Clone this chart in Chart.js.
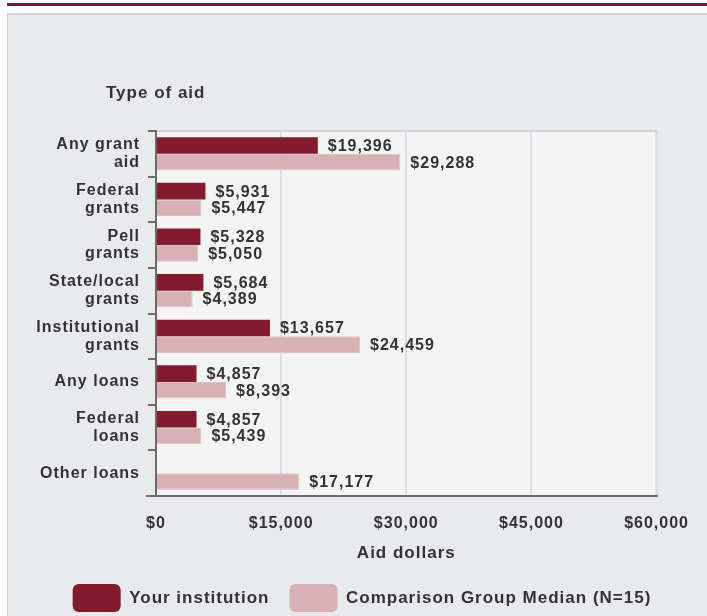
<!DOCTYPE html>
<html>
<head>
<meta charset="utf-8">
<script src="https://cdn.jsdelivr.net/npm/chart.js@4"></script>
<style>
  html, body { margin: 0; padding: 0; background: #fff; }
  body { width: 707px; height: 616px; position: relative; overflow: hidden; font-family: "Liberation Sans", Arial, sans-serif; }
  .stripe { position: absolute; left: 7px; top: 3px; width: 700px; height: 3px; background: #7d1a2c; }
  .panel { position: absolute; left: 7px; top: 13px; width: 699px; height: 603px; background: #e9eaee; border-top: 2px solid #d3d3d5; border-left: 1px solid #cfcfd2; }
  .wrap { position: absolute; left: 0; top: 0; width: 707px; height: 616px; }
</style>
</head>
<body>
<div class="stripe"></div>
<div class="panel"></div>
<div class="wrap"><canvas id="aidChart" width="707" height="616"></canvas></div>
<script>
var categories = [
    ['Any grant', 'aid'],
    ['Federal', 'grants'],
    ['Pell', 'grants'],
    ['State/local', 'grants'],
    ['Institutional', 'grants'],
    'Any loans',
    ['Federal', 'loans'],
    'Other loans'
];
var yourInstitution = [19396, 5931, 5328, 5684, 13657, 4857, 4857, null];
var comparisonMedian = [29288, 5447, 5050, 4389, 24459, 8393, 5439, 17177];
var xTicks = [0, 15000, 30000, 45000, 60000];

var textColor = '#333333';
var fontFamily = '"Liberation Sans", Arial, sans-serif';

function money(v) {
    return '$' + Math.round(v).toLocaleString('en-US');
}

// the source chart uses slightly spaced lettering
var spacing = {
    id: 'spacing',
    beforeUpdate: function (chart) { chart.ctx.letterSpacing = '1px'; },
    beforeDraw: function (chart) { chart.ctx.letterSpacing = '1px'; },
    afterLayout: function (chart) {
        // legend sits a little right of centre in the original
        if (chart.legend) {
            chart.legend.left += 22;
            chart.legend.right += 22;
        }
    }
};

// plot background + "Type of aid" heading + value labels
var backdrop = {
    id: 'backdrop',
    beforeDraw: function (chart) {
        var a = chart.chartArea;
        var ctx = chart.ctx;
        ctx.save();
        ctx.fillStyle = '#f4f4f4';
        ctx.fillRect(a.left, a.top, a.right - a.left, a.bottom - a.top);
        ctx.strokeStyle = '#d2d3d6';
        ctx.lineWidth = 2;
        ctx.beginPath();
        ctx.moveTo(a.left, a.top);
        ctx.lineTo(a.right, a.top);
        ctx.lineTo(a.right, a.bottom);
        ctx.stroke();
        ctx.fillStyle = textColor;
        ctx.font = 'bold 17px ' + fontFamily;
        ctx.textBaseline = 'middle';
        ctx.fillText('Type of aid', 106, 93);
        ctx.restore();
    },
    afterDatasetsDraw: function (chart) {
        var ctx = chart.ctx;
        ctx.save();
        ctx.fillStyle = textColor;
        ctx.font = 'bold 16px ' + fontFamily;
        ctx.textBaseline = 'middle';
        ctx.textAlign = 'left';
        chart.data.datasets.forEach(function (ds, di) {
            var meta = chart.getDatasetMeta(di);
            meta.data.forEach(function (bar, i) {
                var v = ds.data[i];
                if (v === null || v === undefined) return;
                ctx.fillText(money(v), bar.x + 10, bar.y + 1);
            });
        });
        // small extension of the x axis line to the left
        var a = chart.chartArea;
        ctx.strokeStyle = '#6b6b6b';
        ctx.lineWidth = 2;
        ctx.beginPath();
        ctx.moveTo(a.left - 10, a.bottom);
        ctx.lineTo(a.left, a.bottom);
        ctx.stroke();
        ctx.restore();
    }
};

new Chart(document.getElementById('aidChart').getContext('2d'), {
    type: 'bar',
    data: {
        labels: categories,
        datasets: [
            {
                label: 'Your institution',
                data: yourInstitution,
                backgroundColor: '#821b2e',
                borderWidth: 0,
                barPercentage: 1.0,
                categoryPercentage: 0.73
            },
            {
                label: 'Comparison Group Median (N=15)',
                data: comparisonMedian,
                backgroundColor: '#d8b1b7',
                borderColor: '#dfc1c5',
                borderWidth: 1,
                barPercentage: 1.0,
                categoryPercentage: 0.73
            }
        ]
    },
    options: {
        indexAxis: 'y',
        responsive: false,
        animation: false,
        devicePixelRatio: 1,
        layout: { padding: { left: 23, right: 50, top: 131, bottom: -6 } },
        plugins: {
            tooltip: { enabled: false },
            legend: {
                position: 'bottom',
                labels: {
                    color: textColor,
                    font: { family: fontFamily, size: 17, weight: 'bold' },
                    boxWidth: 48,
                    boxHeight: 28,
                    useBorderRadius: true,
                    borderRadius: 6,
                    padding: 20,
                    generateLabels: function (chart) {
                        return chart.data.datasets.map(function (ds, i) {
                            return {
                                text: ds.label,
                                fillStyle: ds.backgroundColor,
                                strokeStyle: ds.backgroundColor,
                                lineWidth: 0,
                                borderRadius: 6,
                                fontColor: textColor,
                                datasetIndex: i
                            };
                        });
                    }
                }
            }
        },
        scales: {
            x: {
                min: 0,
                max: 60000,
                afterBuildTicks: function (scale) {
                    scale.ticks = xTicks.map(function (v) { return { value: v }; });
                },
                afterFit: function (scale) { scale.height = 68; },
                grid: { color: '#d9dfe9', lineWidth: 2, drawTicks: false },
                border: { display: true, color: '#6b6b6b', width: 2 },
                ticks: {
                    color: textColor,
                    padding: 18,
                    font: { family: fontFamily, size: 16, weight: 'bold' },
                    callback: function (v) { return money(v); }
                },
                title: {
                    display: true,
                    text: 'Aid dollars',
                    color: textColor,
                    font: { family: fontFamily, size: 17, weight: 'bold' },
                    padding: { top: 8, bottom: 0 }
                }
            },
            y: {
                afterFit: function (scale) { scale.width = 133; },
                grid: {
                    offset: true,
                    drawOnChartArea: false,
                    drawTicks: true,
                    tickLength: 8,
                    color: '#6b6b6b',
                    lineWidth: 2
                },
                border: { display: true, color: '#6b6b6b', width: 2 },
                ticks: {
                    color: textColor,
                    padding: 8,
                    font: { family: fontFamily, size: 16, weight: 'bold', lineHeight: 1.1 }
                }
            }
        }
    },
    plugins: [spacing, backdrop]
});
</script>
</body>
</html>
